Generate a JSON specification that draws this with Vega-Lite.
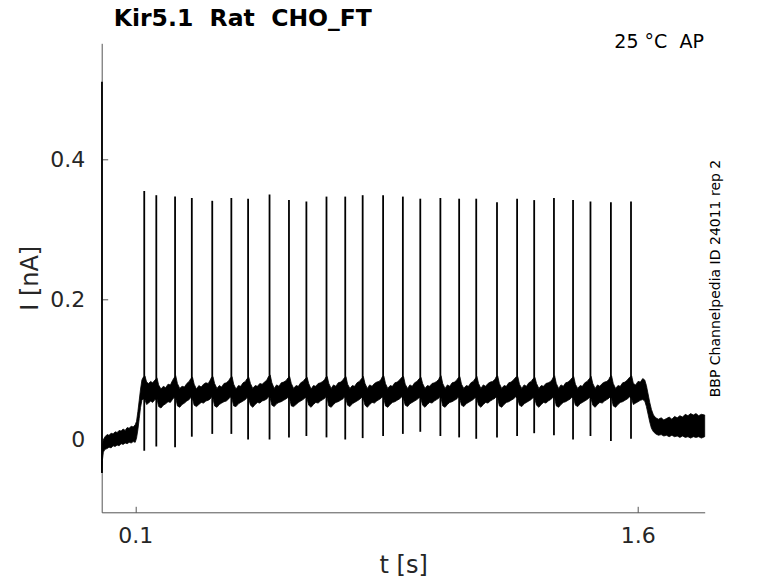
{
  "$schema": "https://vega.github.io/schema/vega-lite/v6.json",
  "width": 603,
  "height": 469,
  "autosize": {"type": "none"},
  "padding": {"left": 101.7, "top": 43.3, "right": 73.3, "bottom": 70.7},
  "background": "white",
  "config": {
    "view": {"stroke": null},
    "font": "DejaVu Sans",
    "axis": {
      "grid": false,
      "domainColor": "#555555",
      "tickColor": "#555555",
      "labelColor": "#262626",
      "titleColor": "#262626",
      "labelFont": "DejaVu Sans",
      "titleFont": "DejaVu Sans",
      "labelFontSize": 22,
      "titleFontSize": 24,
      "titleFontWeight": "normal",
      "tickSize": -6,
      "labelFlush": false,
      "format": ".2~g"
    }
  },
  "resolve": {"axis": {"x": "independent", "y": "independent"}},
  "datasets": {
    "band": [
      {"t":0.000,"lo":-0.047,"hi":-0.030},
      {"t":0.002,"lo":-0.030,"hi":-0.008},
      {"t":0.005,"lo":-0.018,"hi":0.000},
      {"t":0.010,"lo":-0.014,"hi":0.004},
      {"t":0.016,"lo":-0.013,"hi":0.007},
      {"t":0.022,"lo":-0.011,"hi":0.006},
      {"t":0.028,"lo":-0.012,"hi":0.009},
      {"t":0.034,"lo":-0.009,"hi":0.008},
      {"t":0.040,"lo":-0.010,"hi":0.011},
      {"t":0.046,"lo":-0.008,"hi":0.010},
      {"t":0.052,"lo":-0.009,"hi":0.013},
      {"t":0.058,"lo":-0.006,"hi":0.012},
      {"t":0.064,"lo":-0.007,"hi":0.015},
      {"t":0.070,"lo":-0.005,"hi":0.013},
      {"t":0.076,"lo":-0.006,"hi":0.017},
      {"t":0.082,"lo":-0.004,"hi":0.016},
      {"t":0.088,"lo":-0.005,"hi":0.019},
      {"t":0.094,"lo":-0.003,"hi":0.018},
      {"t":0.100,"lo":-0.004,"hi":0.021},
      {"t":0.104,"lo":0.002,"hi":0.026},
      {"t":0.108,"lo":0.014,"hi":0.040},
      {"t":0.112,"lo":0.030,"hi":0.056},
      {"t":0.116,"lo":0.046,"hi":0.072},
      {"t":0.120,"lo":0.056,"hi":0.085},
      {"t":0.124,"lo":0.058,"hi":0.089},
      {"t":0.129,"lo":0.057,"hi":0.091},
      {"t":0.134,"lo":0.050,"hi":0.082},
      {"t":0.140,"lo":0.052,"hi":0.080},
      {"t":0.146,"lo":0.055,"hi":0.083},
      {"t":0.152,"lo":0.053,"hi":0.081},
      {"t":0.159,"lo":0.057,"hi":0.085},
      {"t":0.165,"lo":0.058,"hi":0.088},
      {"t":0.170,"lo":0.047,"hi":0.078},
      {"t":0.177,"lo":0.045,"hi":0.072},
      {"t":0.184,"lo":0.049,"hi":0.076},
      {"t":0.191,"lo":0.051,"hi":0.074},
      {"t":0.198,"lo":0.054,"hi":0.079},
      {"t":0.205,"lo":0.053,"hi":0.078},
      {"t":0.211,"lo":0.057,"hi":0.084},
      {"t":0.216,"lo":0.060,"hi":0.088},
      {"t":0.221,"lo":0.059,"hi":0.091},
      {"t":0.226,"lo":0.048,"hi":0.080},
      {"t":0.233,"lo":0.046,"hi":0.073},
      {"t":0.240,"lo":0.050,"hi":0.076},
      {"t":0.247,"lo":0.052,"hi":0.075},
      {"t":0.254,"lo":0.055,"hi":0.080},
      {"t":0.261,"lo":0.057,"hi":0.083},
      {"t":0.266,"lo":0.060,"hi":0.087},
      {"t":0.271,"lo":0.058,"hi":0.089},
      {"t":0.276,"lo":0.049,"hi":0.079},
      {"t":0.283,"lo":0.047,"hi":0.072},
      {"t":0.290,"lo":0.050,"hi":0.077},
      {"t":0.297,"lo":0.053,"hi":0.075},
      {"t":0.304,"lo":0.052,"hi":0.079},
      {"t":0.311,"lo":0.055,"hi":0.081},
      {"t":0.318,"lo":0.056,"hi":0.080},
      {"t":0.324,"lo":0.058,"hi":0.085},
      {"t":0.328,"lo":0.061,"hi":0.089},
      {"t":0.332,"lo":0.059,"hi":0.090},
      {"t":0.337,"lo":0.048,"hi":0.080},
      {"t":0.344,"lo":0.046,"hi":0.073},
      {"t":0.351,"lo":0.050,"hi":0.077},
      {"t":0.358,"lo":0.052,"hi":0.075},
      {"t":0.365,"lo":0.054,"hi":0.080},
      {"t":0.372,"lo":0.055,"hi":0.081},
      {"t":0.379,"lo":0.058,"hi":0.084},
      {"t":0.384,"lo":0.061,"hi":0.088},
      {"t":0.389,"lo":0.058,"hi":0.090},
      {"t":0.394,"lo":0.048,"hi":0.079},
      {"t":0.401,"lo":0.047,"hi":0.072},
      {"t":0.408,"lo":0.051,"hi":0.077},
      {"t":0.415,"lo":0.053,"hi":0.076},
      {"t":0.422,"lo":0.055,"hi":0.081},
      {"t":0.429,"lo":0.057,"hi":0.083},
      {"t":0.434,"lo":0.060,"hi":0.087},
      {"t":0.439,"lo":0.058,"hi":0.089},
      {"t":0.444,"lo":0.049,"hi":0.080},
      {"t":0.451,"lo":0.046,"hi":0.073},
      {"t":0.458,"lo":0.050,"hi":0.077},
      {"t":0.465,"lo":0.053,"hi":0.076},
      {"t":0.472,"lo":0.052,"hi":0.080},
      {"t":0.479,"lo":0.055,"hi":0.079},
      {"t":0.486,"lo":0.056,"hi":0.082},
      {"t":0.493,"lo":0.058,"hi":0.085},
      {"t":0.498,"lo":0.061,"hi":0.090},
      {"t":0.503,"lo":0.059,"hi":0.092},
      {"t":0.508,"lo":0.049,"hi":0.081},
      {"t":0.515,"lo":0.047,"hi":0.073},
      {"t":0.522,"lo":0.051,"hi":0.078},
      {"t":0.529,"lo":0.053,"hi":0.076},
      {"t":0.536,"lo":0.054,"hi":0.081},
      {"t":0.543,"lo":0.056,"hi":0.082},
      {"t":0.550,"lo":0.058,"hi":0.084},
      {"t":0.556,"lo":0.060,"hi":0.088},
      {"t":0.561,"lo":0.058,"hi":0.090},
      {"t":0.566,"lo":0.048,"hi":0.080},
      {"t":0.573,"lo":0.047,"hi":0.073},
      {"t":0.580,"lo":0.050,"hi":0.077},
      {"t":0.587,"lo":0.053,"hi":0.076},
      {"t":0.594,"lo":0.055,"hi":0.081},
      {"t":0.601,"lo":0.057,"hi":0.083},
      {"t":0.608,"lo":0.060,"hi":0.087},
      {"t":0.613,"lo":0.058,"hi":0.089},
      {"t":0.618,"lo":0.049,"hi":0.080},
      {"t":0.625,"lo":0.046,"hi":0.072},
      {"t":0.632,"lo":0.050,"hi":0.077},
      {"t":0.639,"lo":0.053,"hi":0.076},
      {"t":0.646,"lo":0.052,"hi":0.080},
      {"t":0.653,"lo":0.055,"hi":0.081},
      {"t":0.660,"lo":0.057,"hi":0.083},
      {"t":0.666,"lo":0.059,"hi":0.086},
      {"t":0.669,"lo":0.061,"hi":0.089},
      {"t":0.673,"lo":0.059,"hi":0.090},
      {"t":0.678,"lo":0.048,"hi":0.080},
      {"t":0.685,"lo":0.046,"hi":0.073},
      {"t":0.692,"lo":0.050,"hi":0.078},
      {"t":0.699,"lo":0.053,"hi":0.076},
      {"t":0.706,"lo":0.054,"hi":0.081},
      {"t":0.713,"lo":0.056,"hi":0.082},
      {"t":0.720,"lo":0.058,"hi":0.085},
      {"t":0.724,"lo":0.061,"hi":0.088},
      {"t":0.729,"lo":0.058,"hi":0.090},
      {"t":0.734,"lo":0.049,"hi":0.079},
      {"t":0.741,"lo":0.047,"hi":0.073},
      {"t":0.748,"lo":0.051,"hi":0.077},
      {"t":0.755,"lo":0.053,"hi":0.076},
      {"t":0.762,"lo":0.055,"hi":0.081},
      {"t":0.769,"lo":0.057,"hi":0.083},
      {"t":0.776,"lo":0.060,"hi":0.087},
      {"t":0.781,"lo":0.058,"hi":0.090},
      {"t":0.786,"lo":0.049,"hi":0.080},
      {"t":0.793,"lo":0.046,"hi":0.073},
      {"t":0.800,"lo":0.050,"hi":0.078},
      {"t":0.807,"lo":0.053,"hi":0.076},
      {"t":0.814,"lo":0.052,"hi":0.080},
      {"t":0.821,"lo":0.055,"hi":0.082},
      {"t":0.828,"lo":0.057,"hi":0.083},
      {"t":0.834,"lo":0.059,"hi":0.086},
      {"t":0.838,"lo":0.061,"hi":0.090},
      {"t":0.842,"lo":0.059,"hi":0.091},
      {"t":0.847,"lo":0.048,"hi":0.080},
      {"t":0.854,"lo":0.046,"hi":0.073},
      {"t":0.861,"lo":0.050,"hi":0.077},
      {"t":0.868,"lo":0.053,"hi":0.076},
      {"t":0.875,"lo":0.054,"hi":0.081},
      {"t":0.882,"lo":0.056,"hi":0.082},
      {"t":0.889,"lo":0.058,"hi":0.085},
      {"t":0.896,"lo":0.061,"hi":0.089},
      {"t":0.901,"lo":0.058,"hi":0.090},
      {"t":0.906,"lo":0.049,"hi":0.079},
      {"t":0.913,"lo":0.047,"hi":0.073},
      {"t":0.920,"lo":0.051,"hi":0.078},
      {"t":0.927,"lo":0.053,"hi":0.076},
      {"t":0.934,"lo":0.055,"hi":0.081},
      {"t":0.941,"lo":0.057,"hi":0.083},
      {"t":0.948,"lo":0.060,"hi":0.087},
      {"t":0.953,"lo":0.058,"hi":0.089},
      {"t":0.958,"lo":0.049,"hi":0.080},
      {"t":0.965,"lo":0.046,"hi":0.073},
      {"t":0.972,"lo":0.050,"hi":0.077},
      {"t":0.979,"lo":0.053,"hi":0.076},
      {"t":0.986,"lo":0.052,"hi":0.080},
      {"t":0.993,"lo":0.055,"hi":0.081},
      {"t":1.000,"lo":0.057,"hi":0.083},
      {"t":1.006,"lo":0.059,"hi":0.086},
      {"t":1.009,"lo":0.061,"hi":0.089},
      {"t":1.013,"lo":0.059,"hi":0.091},
      {"t":1.018,"lo":0.048,"hi":0.080},
      {"t":1.025,"lo":0.046,"hi":0.073},
      {"t":1.032,"lo":0.050,"hi":0.078},
      {"t":1.039,"lo":0.053,"hi":0.076},
      {"t":1.046,"lo":0.054,"hi":0.081},
      {"t":1.053,"lo":0.056,"hi":0.082},
      {"t":1.060,"lo":0.058,"hi":0.085},
      {"t":1.064,"lo":0.061,"hi":0.088},
      {"t":1.069,"lo":0.058,"hi":0.090},
      {"t":1.074,"lo":0.049,"hi":0.079},
      {"t":1.081,"lo":0.047,"hi":0.073},
      {"t":1.088,"lo":0.051,"hi":0.077},
      {"t":1.095,"lo":0.053,"hi":0.076},
      {"t":1.102,"lo":0.055,"hi":0.081},
      {"t":1.109,"lo":0.057,"hi":0.083},
      {"t":1.115,"lo":0.060,"hi":0.087},
      {"t":1.120,"lo":0.058,"hi":0.090},
      {"t":1.125,"lo":0.049,"hi":0.080},
      {"t":1.132,"lo":0.046,"hi":0.073},
      {"t":1.139,"lo":0.050,"hi":0.078},
      {"t":1.146,"lo":0.053,"hi":0.076},
      {"t":1.153,"lo":0.052,"hi":0.080},
      {"t":1.160,"lo":0.055,"hi":0.082},
      {"t":1.167,"lo":0.057,"hi":0.083},
      {"t":1.174,"lo":0.059,"hi":0.086},
      {"t":1.178,"lo":0.061,"hi":0.090},
      {"t":1.182,"lo":0.059,"hi":0.091},
      {"t":1.187,"lo":0.048,"hi":0.080},
      {"t":1.194,"lo":0.046,"hi":0.073},
      {"t":1.201,"lo":0.050,"hi":0.077},
      {"t":1.208,"lo":0.053,"hi":0.076},
      {"t":1.215,"lo":0.054,"hi":0.081},
      {"t":1.222,"lo":0.056,"hi":0.082},
      {"t":1.229,"lo":0.058,"hi":0.085},
      {"t":1.236,"lo":0.061,"hi":0.089},
      {"t":1.242,"lo":0.058,"hi":0.090},
      {"t":1.247,"lo":0.049,"hi":0.079},
      {"t":1.254,"lo":0.047,"hi":0.073},
      {"t":1.261,"lo":0.051,"hi":0.078},
      {"t":1.268,"lo":0.053,"hi":0.076},
      {"t":1.275,"lo":0.055,"hi":0.081},
      {"t":1.282,"lo":0.057,"hi":0.083},
      {"t":1.288,"lo":0.060,"hi":0.087},
      {"t":1.293,"lo":0.058,"hi":0.089},
      {"t":1.298,"lo":0.049,"hi":0.080},
      {"t":1.305,"lo":0.046,"hi":0.073},
      {"t":1.312,"lo":0.050,"hi":0.077},
      {"t":1.319,"lo":0.053,"hi":0.076},
      {"t":1.326,"lo":0.052,"hi":0.080},
      {"t":1.333,"lo":0.055,"hi":0.081},
      {"t":1.340,"lo":0.057,"hi":0.083},
      {"t":1.345,"lo":0.059,"hi":0.086},
      {"t":1.348,"lo":0.061,"hi":0.089},
      {"t":1.352,"lo":0.059,"hi":0.091},
      {"t":1.357,"lo":0.048,"hi":0.080},
      {"t":1.364,"lo":0.046,"hi":0.073},
      {"t":1.371,"lo":0.050,"hi":0.078},
      {"t":1.378,"lo":0.053,"hi":0.076},
      {"t":1.385,"lo":0.054,"hi":0.081},
      {"t":1.392,"lo":0.056,"hi":0.082},
      {"t":1.399,"lo":0.058,"hi":0.085},
      {"t":1.404,"lo":0.061,"hi":0.088},
      {"t":1.409,"lo":0.058,"hi":0.090},
      {"t":1.414,"lo":0.049,"hi":0.079},
      {"t":1.421,"lo":0.047,"hi":0.073},
      {"t":1.428,"lo":0.051,"hi":0.077},
      {"t":1.435,"lo":0.053,"hi":0.076},
      {"t":1.442,"lo":0.055,"hi":0.081},
      {"t":1.449,"lo":0.057,"hi":0.083},
      {"t":1.456,"lo":0.060,"hi":0.087},
      {"t":1.461,"lo":0.058,"hi":0.090},
      {"t":1.466,"lo":0.049,"hi":0.080},
      {"t":1.473,"lo":0.046,"hi":0.073},
      {"t":1.480,"lo":0.050,"hi":0.078},
      {"t":1.487,"lo":0.053,"hi":0.076},
      {"t":1.494,"lo":0.052,"hi":0.080},
      {"t":1.501,"lo":0.055,"hi":0.082},
      {"t":1.508,"lo":0.057,"hi":0.083},
      {"t":1.514,"lo":0.059,"hi":0.086},
      {"t":1.518,"lo":0.061,"hi":0.090},
      {"t":1.522,"lo":0.059,"hi":0.091},
      {"t":1.527,"lo":0.048,"hi":0.080},
      {"t":1.534,"lo":0.046,"hi":0.073},
      {"t":1.541,"lo":0.050,"hi":0.077},
      {"t":1.548,"lo":0.053,"hi":0.076},
      {"t":1.555,"lo":0.054,"hi":0.081},
      {"t":1.562,"lo":0.056,"hi":0.082},
      {"t":1.569,"lo":0.058,"hi":0.085},
      {"t":1.576,"lo":0.061,"hi":0.089},
      {"t":1.582,"lo":0.058,"hi":0.091},
      {"t":1.587,"lo":0.050,"hi":0.080},
      {"t":1.594,"lo":0.052,"hi":0.078},
      {"t":1.601,"lo":0.054,"hi":0.083},
      {"t":1.608,"lo":0.056,"hi":0.082},
      {"t":1.615,"lo":0.057,"hi":0.087},
      {"t":1.621,"lo":0.055,"hi":0.085},
      {"t":1.626,"lo":0.047,"hi":0.077},
      {"t":1.631,"lo":0.036,"hi":0.065},
      {"t":1.636,"lo":0.025,"hi":0.053},
      {"t":1.641,"lo":0.016,"hi":0.043},
      {"t":1.647,"lo":0.011,"hi":0.035},
      {"t":1.654,"lo":0.008,"hi":0.031},
      {"t":1.662,"lo":0.006,"hi":0.029},
      {"t":1.670,"lo":0.007,"hi":0.031},
      {"t":1.678,"lo":0.005,"hi":0.028},
      {"t":1.686,"lo":0.006,"hi":0.030},
      {"t":1.694,"lo":0.004,"hi":0.032},
      {"t":1.702,"lo":0.006,"hi":0.029},
      {"t":1.710,"lo":0.004,"hi":0.033},
      {"t":1.718,"lo":0.005,"hi":0.031},
      {"t":1.726,"lo":0.003,"hi":0.034},
      {"t":1.734,"lo":0.005,"hi":0.032},
      {"t":1.742,"lo":0.003,"hi":0.036},
      {"t":1.750,"lo":0.004,"hi":0.034},
      {"t":1.758,"lo":0.002,"hi":0.037},
      {"t":1.766,"lo":0.004,"hi":0.035},
      {"t":1.774,"lo":0.003,"hi":0.037},
      {"t":1.782,"lo":0.004,"hi":0.034},
      {"t":1.790,"lo":0.002,"hi":0.036},
      {"t":1.800,"lo":0.004,"hi":0.035}
    ],
    "spikes": [
      {"t":0.0008,"lo":-0.048,"hi":0.511},
      {"t":0.127,"lo":-0.016,"hi":0.355},
      {"t":0.163,"lo":-0.010,"hi":0.349},
      {"t":0.219,"lo":-0.011,"hi":0.347},
      {"t":0.269,"lo":0.004,"hi":0.345},
      {"t":0.330,"lo":0.008,"hi":0.341},
      {"t":0.387,"lo":0.008,"hi":0.345},
      {"t":0.437,"lo":0.000,"hi":0.344},
      {"t":0.501,"lo":0.000,"hi":0.350},
      {"t":0.559,"lo":0.003,"hi":0.342},
      {"t":0.611,"lo":0.005,"hi":0.340},
      {"t":0.671,"lo":0.003,"hi":0.347},
      {"t":0.727,"lo":0.000,"hi":0.347},
      {"t":0.779,"lo":0.002,"hi":0.349},
      {"t":0.840,"lo":0.005,"hi":0.349},
      {"t":0.899,"lo":0.008,"hi":0.347},
      {"t":0.951,"lo":0.011,"hi":0.344},
      {"t":1.011,"lo":0.005,"hi":0.345},
      {"t":1.067,"lo":0.003,"hi":0.344},
      {"t":1.118,"lo":0.001,"hi":0.344},
      {"t":1.180,"lo":0.003,"hi":0.339},
      {"t":1.240,"lo":0.005,"hi":0.344},
      {"t":1.291,"lo":0.009,"hi":0.342},
      {"t":1.350,"lo":0.006,"hi":0.345},
      {"t":1.407,"lo":0.000,"hi":0.342},
      {"t":1.459,"lo":0.005,"hi":0.340},
      {"t":1.520,"lo":-0.002,"hi":0.339},
      {"t":1.580,"lo":0.001,"hi":0.340}
    ]
  },
  "layer": [
    {
      "data": {"name": "band"},
      "mark": {"type": "area", "color": "black", "stroke": "black", "strokeWidth": 0.8},
      "encoding": {
        "x": {
          "field": "t",
          "type": "quantitative",
          "scale": {"domain": [0, 1.8], "nice": false, "zero": false},
          "axis": {"values": [0.1, 1.6], "title": "t [s]", "labelPadding": 19, "titlePadding": 7}
        },
        "y": {
          "field": "lo",
          "type": "quantitative",
          "scale": {"domain": [-0.104, 0.566], "nice": false, "zero": false},
          "axis": {"values": [0, 0.2, 0.4], "title": "I [nA]", "labelPadding": 23, "titlePadding": 7}
        },
        "y2": {"field": "hi"}
      }
    },
    {
      "data": {"name": "spikes"},
      "mark": {"type": "rule", "color": "black", "strokeWidth": 1.8},
      "encoding": {
        "x": {"field": "t", "type": "quantitative", "axis": null},
        "y": {"field": "lo", "type": "quantitative", "axis": null},
        "y2": {"field": "hi"}
      }
    },
    {
      "data": {"values": [{}]},
      "mark": {"type": "text", "text": "Kir5.1 \u00a0Rat \u00a0CHO_FT", "font": "DejaVu Sans", "fontSize": 23.5, "fontWeight": "bold", "align": "left", "baseline": "alphabetic", "color": "black"},
      "encoding": {
        "x": {"datum": 0.036, "type": "quantitative", "axis": null},
        "y": {"datum": 0.5904, "type": "quantitative", "axis": null}
      }
    },
    {
      "data": {"values": [{}]},
      "mark": {"type": "text", "text": "25 °C \u00a0AP", "font": "DejaVu Sans", "fontSize": 19, "align": "right", "baseline": "alphabetic", "color": "black"},
      "encoding": {
        "x": {"datum": 1.7976, "type": "quantitative", "axis": null},
        "y": {"datum": 0.560, "type": "quantitative", "axis": null}
      }
    },
    {
      "data": {"values": [{}]},
      "mark": {"type": "text", "text": "BBP Channelpedia ID 24011 rep 2", "font": "DejaVu Sans", "fontSize": 14, "angle": 270, "align": "center", "baseline": "alphabetic", "color": "black"},
      "encoding": {
        "x": {"datum": 1.847, "type": "quantitative", "axis": null},
        "y": {"datum": 0.23, "type": "quantitative", "axis": null}
      }
    }
  ]
}
